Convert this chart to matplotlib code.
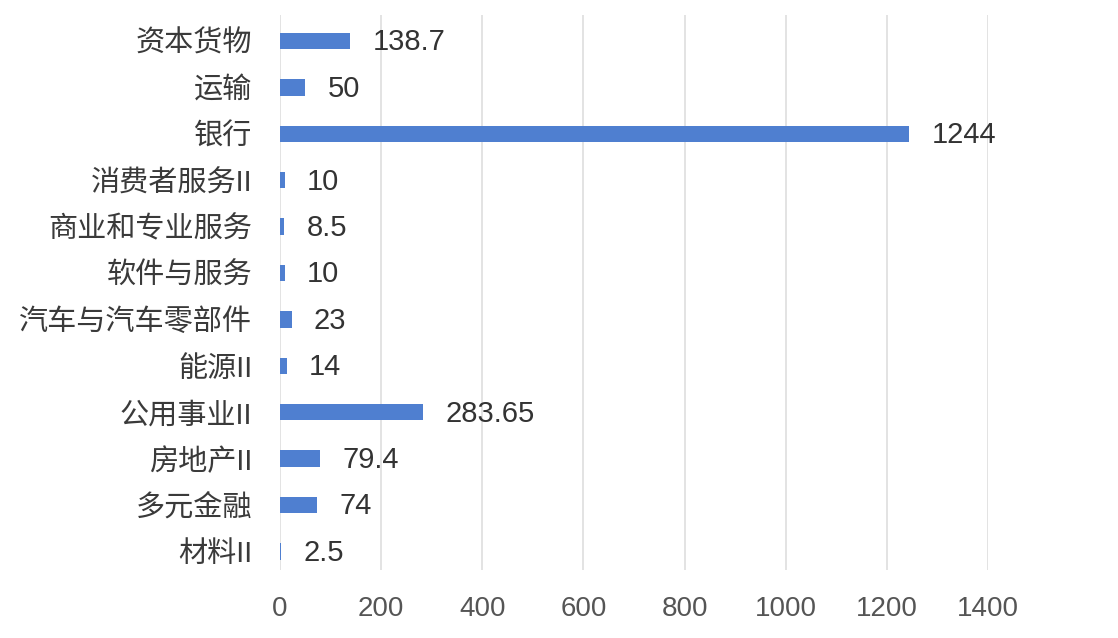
import matplotlib.pyplot as plt
import numpy as np

plt.rcParams['font.family'] = ['Liberation Sans', 'Noto Sans CJK SC', 'DejaVu Sans']

categories = ["资本货物", "运输", "银行", "消费者服务II", "商业和专业服务", "软件与服务",
              "汽车与汽车零部件", "能源II", "公用事业II", "房地产II", "多元金融", "材料II"]
values = [138.7, 50, 1244, 10, 8.5, 10, 23, 14, 283.65, 79.4, 74, 2.5]
xticks = [0, 200, 400, 600, 800, 1000, 1200, 1400]

fig = plt.figure(figsize=(11.18, 6.38), dpi=100)
ax = fig.add_axes([0.2504, 0.1066, 0.6333, 0.8699])

y = np.arange(len(categories))
ax.barh(y, values, height=0.35, color='#4f7fd0', zorder=3)

for yi, v in zip(y, values):
    ax.annotate(f"{v:g}", (v, yi), xytext=(16, -1), textcoords='offset points',
                va='center', ha='left', fontsize=21, color='#333333', annotation_clip=False)

ax.set_yticks(y)
ax.set_yticklabels(categories)
ax.set_xticks(xticks)
ax.set_xlim(0, 1400)
ax.set_ylim(11.4, -0.56)

ax.tick_params(axis='y', length=0, pad=20, labelsize=21, labelcolor='#3a3a3a')
ax.tick_params(axis='x', length=0, pad=19, labelsize=20, labelcolor='#555555')
ax.grid(axis='x', color='#dedede', linewidth=1.2, zorder=0)
for s in ax.spines.values():
    s.set_visible(False)

fig.savefig("out.png", dpi=100)
